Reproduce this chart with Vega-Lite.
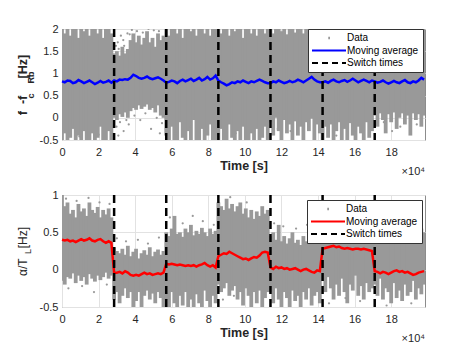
{
  "$schema": "https://vega.github.io/schema/vega-lite/v6.json",
  "padding": {"left": 15, "top": 22, "right": 0, "bottom": 0},
  "background": "white",
  "bounds": "flush",
  "spacing": 55,
  "config": {
    "font": "Liberation Sans",
    "view": {"stroke": "#8c8c8c", "strokeWidth": 1},
    "axis": {"labelFont": "Liberation Sans", "labelFontSize": 11, "labelColor": "#262626", "titleFont": "Liberation Sans", "titleFontSize": 12.5, "titleColor": "#262626", "gridColor": "#e2e2e2", "gridWidth": 1, "ticks": false, "domain": false, "labelOverlap": false, "labelFlush": false, "minExtent": 0},
    "legend": {"labelFont": "Liberation Sans", "labelFontSize": 10, "labelColor": "#000000", "strokeColor": "#333333", "fillColor": "white", "padding": 4, "rowPadding": 2.5, "symbolSize": 100, "symbolStrokeWidth": 2, "labelOffset": 25, "symbolType": "M-1,0H5.8"}
  },
  "resolve": {"scale": {"color": "independent"}, "legend": {"color": "independent"}},
  "datasets": {
    "switch": [{"t": 28500}, {"t": 57000}, {"t": 85500}, {"t": 114000}, {"t": 142500}, {"t": 171000}],
    "topOut": [
      {"t": 30500, "v": 1.7}, {"t": 32200, "v": 1.85}, {"t": 34000, "v": 1.62}, {"t": 35800, "v": 1.9}, {"t": 38200, "v": 1.98}, {"t": 41000, "v": 1.95}, {"t": 44200, "v": 1.92}, {"t": 47300, "v": 2.0}, {"t": 50200, "v": 1.97}, {"t": 53000, "v": 1.95}, {"t": 29500, "v": 1.62}, {"t": 33500, "v": 1.75}, {"t": 37000, "v": 1.88}, {"t": 31000, "v": 1.55},
      {"t": 29800, "v": -0.2}, {"t": 31700, "v": -0.1}, {"t": 33700, "v": -0.3}, {"t": 36500, "v": -0.15}, {"t": 39600, "v": 0.05}, {"t": 42800, "v": -0.05}, {"t": 45600, "v": 0.1}, {"t": 48700, "v": -0.25}, {"t": 51800, "v": 0.0}, {"t": 54700, "v": -0.12}, {"t": 30800, "v": -0.4}, {"t": 35200, "v": -0.05}, {"t": 53500, "v": -0.35},
      {"t": 9500, "v": -0.42}, {"t": 20000, "v": -0.38}, {"t": 62000, "v": -0.35}, {"t": 70000, "v": -0.2}, {"t": 95000, "v": -0.35}, {"t": 118000, "v": -0.25}, {"t": 125000, "v": -0.3}, {"t": 150000, "v": -0.4}, {"t": 160000, "v": -0.3}, {"t": 176000, "v": -0.1}, {"t": 185000, "v": -0.2}, {"t": 194000, "v": -0.15}, {"t": 180500, "v": -0.3}
    ],
    "bottomOut": [
      {"t": 2200, "v": 0.95}, {"t": 8000, "v": 0.92}, {"t": 14500, "v": 0.96}, {"t": 20500, "v": 0.9}, {"t": 26000, "v": 0.88},
      {"t": 30000, "v": 0.42}, {"t": 35000, "v": 0.38}, {"t": 41500, "v": 0.4}, {"t": 47000, "v": 0.35}, {"t": 53000, "v": 0.43},
      {"t": 59000, "v": 0.7}, {"t": 66000, "v": 0.62}, {"t": 71500, "v": 0.72}, {"t": 77000, "v": 0.65}, {"t": 83000, "v": 0.6},
      {"t": 92000, "v": 0.97}, {"t": 101000, "v": 0.9},
      {"t": 116000, "v": 0.62}, {"t": 121000, "v": 0.58}, {"t": 128000, "v": 0.55}, {"t": 134000, "v": 0.6}, {"t": 140000, "v": 0.52},
      {"t": 175000, "v": 0.66}, {"t": 182000, "v": 0.62}, {"t": 189500, "v": 0.68}, {"t": 196000, "v": 0.62},
      {"t": 3500, "v": -0.25}, {"t": 11000, "v": -0.22}, {"t": 17500, "v": -0.3}, {"t": 24500, "v": -0.2},
      {"t": 88000, "v": -0.4}, {"t": 94000, "v": -0.35}, {"t": 146000, "v": -0.45}, {"t": 155000, "v": -0.38}, {"t": 163000, "v": -0.42}, {"t": 177500, "v": -0.48}, {"t": 191000, "v": -0.45}
    ],
    "top": [
      {"t": 0, "lo": -0.6, "hi": 2.1, "ma": 0.82}, {"t": 1500, "lo": -0.35, "hi": 1.9, "ma": 0.8}, {"t": 3000, "lo": -0.6, "hi": 2.1, "ma": 0.84}, {"t": 4500, "lo": -0.45, "hi": 1.85, "ma": 0.83}, {"t": 6000, "lo": -0.25, "hi": 2.1, "ma": 0.78}, {"t": 7500, "lo": -0.6, "hi": 2.1, "ma": 0.8}, {"t": 9000, "lo": -0.4, "hi": 1.8, "ma": 0.85}, {"t": 10500, "lo": -0.6, "hi": 2.1, "ma": 0.82}, {"t": 12000, "lo": -0.3, "hi": 1.95, "ma": 0.78}, {"t": 13500, "lo": -0.55, "hi": 2.1, "ma": 0.81}, {"t": 15000, "lo": -0.6, "hi": 1.85, "ma": 0.84}, {"t": 16500, "lo": -0.35, "hi": 2.1, "ma": 0.8}, {"t": 18000, "lo": -0.6, "hi": 2.1, "ma": 0.76}, {"t": 19500, "lo": -0.45, "hi": 1.9, "ma": 0.79}, {"t": 21000, "lo": -0.2, "hi": 2.1, "ma": 0.83}, {"t": 22500, "lo": -0.6, "hi": 1.8, "ma": 0.79}, {"t": 24000, "lo": -0.5, "hi": 2.1, "ma": 0.81}, {"t": 25500, "lo": -0.3, "hi": 2.1, "ma": 0.84}, {"t": 27000, "lo": -0.6, "hi": 1.9, "ma": 0.79},
      {"t": 28500, "lo": 0.0, "hi": 1.45, "ma": 0.84}, {"t": 30000, "lo": -0.05, "hi": 1.5, "ma": 0.82}, {"t": 31500, "lo": 0.08, "hi": 1.4, "ma": 0.86}, {"t": 33000, "lo": 0.02, "hi": 1.6, "ma": 0.85}, {"t": 34500, "lo": 0.12, "hi": 1.45, "ma": 0.87}, {"t": 36000, "lo": 0.0, "hi": 1.55, "ma": 0.86}, {"t": 37500, "lo": 0.15, "hi": 1.75, "ma": 0.9}, {"t": 39000, "lo": 0.22, "hi": 1.9, "ma": 0.97}, {"t": 40500, "lo": 0.18, "hi": 1.7, "ma": 0.94}, {"t": 42000, "lo": 0.28, "hi": 1.85, "ma": 0.9}, {"t": 43500, "lo": 0.2, "hi": 1.65, "ma": 0.88}, {"t": 45000, "lo": 0.25, "hi": 1.8, "ma": 0.9}, {"t": 46500, "lo": 0.3, "hi": 1.95, "ma": 0.93}, {"t": 48000, "lo": 0.18, "hi": 1.7, "ma": 0.89}, {"t": 49500, "lo": 0.22, "hi": 1.8, "ma": 0.87}, {"t": 51000, "lo": 0.12, "hi": 1.6, "ma": 0.89}, {"t": 52500, "lo": 0.28, "hi": 1.9, "ma": 0.91}, {"t": 54000, "lo": 0.05, "hi": 1.75, "ma": 0.88}, {"t": 55500, "lo": 0.0, "hi": 1.85, "ma": 0.84},
      {"t": 57000, "lo": -0.4, "hi": 2.1, "ma": 0.79}, {"t": 58500, "lo": -0.6, "hi": 1.85, "ma": 0.81}, {"t": 60000, "lo": -0.2, "hi": 2.1, "ma": 0.84}, {"t": 61500, "lo": -0.5, "hi": 2.1, "ma": 0.82}, {"t": 63000, "lo": -0.6, "hi": 1.9, "ma": 0.78}, {"t": 64500, "lo": -0.1, "hi": 2.1, "ma": 0.83}, {"t": 66000, "lo": -0.45, "hi": 1.8, "ma": 0.86}, {"t": 67500, "lo": -0.6, "hi": 2.1, "ma": 0.82}, {"t": 69000, "lo": -0.3, "hi": 2.1, "ma": 0.85}, {"t": 70500, "lo": -0.6, "hi": 1.95, "ma": 0.88}, {"t": 72000, "lo": -0.05, "hi": 2.1, "ma": 0.83}, {"t": 73500, "lo": -0.5, "hi": 1.85, "ma": 0.86}, {"t": 75000, "lo": -0.6, "hi": 2.1, "ma": 0.9}, {"t": 76500, "lo": -0.25, "hi": 2.1, "ma": 0.84}, {"t": 78000, "lo": -0.6, "hi": 1.9, "ma": 0.87}, {"t": 79500, "lo": -0.4, "hi": 2.1, "ma": 0.92}, {"t": 81000, "lo": -0.15, "hi": 1.85, "ma": 0.86}, {"t": 82500, "lo": -0.6, "hi": 2.1, "ma": 0.89}, {"t": 84000, "lo": -0.5, "hi": 2.1, "ma": 0.95},
      {"t": 85500, "lo": -0.6, "hi": 2.1, "ma": 0.84}, {"t": 87000, "lo": -0.25, "hi": 1.9, "ma": 0.8}, {"t": 88500, "lo": -0.5, "hi": 2.1, "ma": 0.77}, {"t": 90000, "lo": -0.6, "hi": 2.1, "ma": 0.73}, {"t": 91500, "lo": -0.15, "hi": 1.85, "ma": 0.76}, {"t": 93000, "lo": -0.45, "hi": 2.1, "ma": 0.8}, {"t": 94500, "lo": -0.6, "hi": 1.95, "ma": 0.78}, {"t": 96000, "lo": -0.3, "hi": 2.1, "ma": 0.82}, {"t": 97500, "lo": -0.6, "hi": 2.1, "ma": 0.8}, {"t": 99000, "lo": -0.2, "hi": 1.8, "ma": 0.84}, {"t": 100500, "lo": -0.5, "hi": 2.1, "ma": 0.81}, {"t": 102000, "lo": -0.6, "hi": 2.1, "ma": 0.78}, {"t": 103500, "lo": -0.35, "hi": 1.9, "ma": 0.82}, {"t": 105000, "lo": -0.6, "hi": 2.1, "ma": 0.8}, {"t": 106500, "lo": -0.25, "hi": 1.85, "ma": 0.83}, {"t": 108000, "lo": -0.6, "hi": 2.1, "ma": 0.86}, {"t": 109500, "lo": -0.45, "hi": 2.1, "ma": 0.83}, {"t": 111000, "lo": -0.2, "hi": 1.9, "ma": 0.8}, {"t": 112500, "lo": -0.6, "hi": 2.1, "ma": 0.78},
      {"t": 114000, "lo": -0.1, "hi": 2.1, "ma": 0.78}, {"t": 115500, "lo": -0.4, "hi": 1.9, "ma": 0.82}, {"t": 117000, "lo": 0.0, "hi": 2.1, "ma": 0.8}, {"t": 118500, "lo": -0.3, "hi": 2.1, "ma": 0.84}, {"t": 120000, "lo": -0.6, "hi": 1.95, "ma": 0.81}, {"t": 121500, "lo": -0.05, "hi": 2.1, "ma": 0.78}, {"t": 123000, "lo": -0.35, "hi": 1.88, "ma": 0.8}, {"t": 124500, "lo": -0.15, "hi": 2.1, "ma": 0.83}, {"t": 126000, "lo": -0.6, "hi": 2.1, "ma": 0.8}, {"t": 127500, "lo": -0.08, "hi": 1.92, "ma": 0.82}, {"t": 129000, "lo": -0.4, "hi": 2.1, "ma": 0.86}, {"t": 130500, "lo": -0.2, "hi": 2.1, "ma": 0.83}, {"t": 132000, "lo": -0.6, "hi": 1.9, "ma": 0.8}, {"t": 133500, "lo": -0.1, "hi": 2.1, "ma": 0.84}, {"t": 135000, "lo": -0.3, "hi": 2.1, "ma": 0.88}, {"t": 136500, "lo": -0.02, "hi": 1.95, "ma": 0.92}, {"t": 138000, "lo": -0.5, "hi": 2.1, "ma": 0.86}, {"t": 139500, "lo": -0.15, "hi": 1.9, "ma": 0.82}, {"t": 141000, "lo": -0.35, "hi": 2.1, "ma": 0.8},
      {"t": 142500, "lo": -0.6, "hi": 2.1, "ma": 0.8}, {"t": 144000, "lo": -0.2, "hi": 2.1, "ma": 0.82}, {"t": 145500, "lo": -0.45, "hi": 1.9, "ma": 0.79}, {"t": 147000, "lo": -0.15, "hi": 2.1, "ma": 0.83}, {"t": 148500, "lo": -0.6, "hi": 2.1, "ma": 0.86}, {"t": 150000, "lo": -0.3, "hi": 1.95, "ma": 0.82}, {"t": 151500, "lo": -0.1, "hi": 2.1, "ma": 0.8}, {"t": 153000, "lo": -0.5, "hi": 2.1, "ma": 0.83}, {"t": 154500, "lo": -0.25, "hi": 1.9, "ma": 0.85}, {"t": 156000, "lo": -0.6, "hi": 2.1, "ma": 0.81}, {"t": 157500, "lo": -0.12, "hi": 2.1, "ma": 0.84}, {"t": 159000, "lo": -0.4, "hi": 2.1, "ma": 0.88}, {"t": 160500, "lo": -0.6, "hi": 1.9, "ma": 0.84}, {"t": 162000, "lo": -0.2, "hi": 2.1, "ma": 0.8}, {"t": 163500, "lo": -0.35, "hi": 2.1, "ma": 0.83}, {"t": 165000, "lo": -0.6, "hi": 1.95, "ma": 0.86}, {"t": 166500, "lo": -0.1, "hi": 2.1, "ma": 0.83}, {"t": 168000, "lo": -0.45, "hi": 2.1, "ma": 0.8}, {"t": 169500, "lo": -0.3, "hi": 2.1, "ma": 0.84},
      {"t": 171000, "lo": 0.05, "hi": 2.1, "ma": 0.82}, {"t": 172500, "lo": -0.2, "hi": 2.1, "ma": 0.79}, {"t": 174000, "lo": 0.1, "hi": 1.9, "ma": 0.81}, {"t": 175500, "lo": -0.05, "hi": 2.1, "ma": 0.84}, {"t": 177000, "lo": -0.35, "hi": 2.1, "ma": 0.8}, {"t": 178500, "lo": 0.08, "hi": 2.1, "ma": 0.77}, {"t": 180000, "lo": -0.1, "hi": 1.95, "ma": 0.8}, {"t": 181500, "lo": 0.12, "hi": 2.1, "ma": 0.83}, {"t": 183000, "lo": -0.25, "hi": 2.1, "ma": 0.8}, {"t": 184500, "lo": 0.0, "hi": 1.9, "ma": 0.78}, {"t": 186000, "lo": 0.1, "hi": 2.1, "ma": 0.82}, {"t": 187500, "lo": -0.15, "hi": 2.1, "ma": 0.85}, {"t": 189000, "lo": 0.05, "hi": 2.1, "ma": 0.8}, {"t": 190500, "lo": -0.4, "hi": 1.95, "ma": 0.78}, {"t": 192000, "lo": 0.1, "hi": 2.1, "ma": 0.82}, {"t": 193500, "lo": -0.05, "hi": 2.1, "ma": 0.8}, {"t": 195000, "lo": 0.08, "hi": 1.9, "ma": 0.84}, {"t": 196500, "lo": -0.2, "hi": 2.1, "ma": 0.9}, {"t": 198000, "lo": 0.05, "hi": 2.1, "ma": 0.86}
    ],
    "bottom": [
      {"t": 0, "lo": -0.15, "hi": 1.0, "ma": 0.4}, {"t": 1500, "lo": -0.2, "hi": 0.85, "ma": 0.39}, {"t": 3000, "lo": -0.1, "hi": 0.9, "ma": 0.4}, {"t": 4500, "lo": -0.12, "hi": 0.75, "ma": 0.38}, {"t": 6000, "lo": -0.05, "hi": 0.8, "ma": 0.39}, {"t": 7500, "lo": -0.18, "hi": 0.7, "ma": 0.37}, {"t": 9000, "lo": -0.08, "hi": 0.88, "ma": 0.39}, {"t": 10500, "lo": -0.15, "hi": 0.78, "ma": 0.41}, {"t": 12000, "lo": -0.1, "hi": 0.82, "ma": 0.39}, {"t": 13500, "lo": -0.2, "hi": 0.72, "ma": 0.4}, {"t": 15000, "lo": -0.06, "hi": 0.9, "ma": 0.42}, {"t": 16500, "lo": -0.12, "hi": 0.8, "ma": 0.39}, {"t": 18000, "lo": -0.16, "hi": 0.76, "ma": 0.38}, {"t": 19500, "lo": -0.08, "hi": 0.84, "ma": 0.4}, {"t": 21000, "lo": -0.14, "hi": 0.7, "ma": 0.41}, {"t": 22500, "lo": -0.1, "hi": 0.8, "ma": 0.38}, {"t": 24000, "lo": -0.04, "hi": 0.74, "ma": 0.36}, {"t": 25500, "lo": -0.12, "hi": 0.82, "ma": 0.38}, {"t": 27000, "lo": -0.08, "hi": 0.7, "ma": 0.36},
      {"t": 28500, "lo": -0.4, "hi": 0.3, "ma": -0.04}, {"t": 30000, "lo": -0.3, "hi": 0.25, "ma": -0.04}, {"t": 31500, "lo": -0.45, "hi": 0.22, "ma": -0.03}, {"t": 33000, "lo": -0.35, "hi": 0.28, "ma": -0.05}, {"t": 34500, "lo": -0.25, "hi": 0.2, "ma": -0.02}, {"t": 36000, "lo": -0.38, "hi": 0.32, "ma": -0.04}, {"t": 37500, "lo": -0.3, "hi": 0.18, "ma": -0.07}, {"t": 39000, "lo": -0.5, "hi": 0.24, "ma": -0.08}, {"t": 40500, "lo": -0.42, "hi": 0.28, "ma": -0.07}, {"t": 42000, "lo": -0.3, "hi": 0.15, "ma": -0.08}, {"t": 43500, "lo": -0.55, "hi": 0.22, "ma": -0.06}, {"t": 45000, "lo": -0.35, "hi": 0.26, "ma": -0.04}, {"t": 46500, "lo": -0.28, "hi": 0.2, "ma": -0.06}, {"t": 48000, "lo": -0.4, "hi": 0.3, "ma": -0.05}, {"t": 49500, "lo": -0.32, "hi": 0.18, "ma": -0.07}, {"t": 51000, "lo": -0.45, "hi": 0.24, "ma": -0.06}, {"t": 52500, "lo": -0.3, "hi": 0.27, "ma": -0.05}, {"t": 54000, "lo": -0.38, "hi": 0.2, "ma": -0.06}, {"t": 55500, "lo": -0.5, "hi": 0.25, "ma": -0.04},
      {"t": 57000, "lo": -0.4, "hi": 0.5, "ma": 0.08}, {"t": 58500, "lo": -0.5, "hi": 0.45, "ma": 0.07}, {"t": 60000, "lo": -0.3, "hi": 0.55, "ma": 0.08}, {"t": 61500, "lo": -0.45, "hi": 0.72, "ma": 0.07}, {"t": 63000, "lo": -0.55, "hi": 0.48, "ma": 0.06}, {"t": 64500, "lo": -0.35, "hi": 0.5, "ma": 0.07}, {"t": 66000, "lo": -0.48, "hi": 0.44, "ma": 0.06}, {"t": 67500, "lo": -0.3, "hi": 0.55, "ma": 0.05}, {"t": 69000, "lo": -0.52, "hi": 0.5, "ma": 0.06}, {"t": 70500, "lo": -0.4, "hi": 0.6, "ma": 0.05}, {"t": 72000, "lo": -0.55, "hi": 0.46, "ma": 0.06}, {"t": 73500, "lo": -0.33, "hi": 0.52, "ma": 0.04}, {"t": 75000, "lo": -0.45, "hi": 0.48, "ma": 0.06}, {"t": 76500, "lo": -0.5, "hi": 0.56, "ma": 0.07}, {"t": 78000, "lo": -0.28, "hi": 0.5, "ma": 0.09}, {"t": 79500, "lo": -0.42, "hi": 0.45, "ma": 0.06}, {"t": 81000, "lo": -0.55, "hi": 0.55, "ma": 0.04}, {"t": 82500, "lo": -0.35, "hi": 0.48, "ma": 0.06}, {"t": 84000, "lo": -0.45, "hi": 0.52, "ma": 0.03},
      {"t": 85500, "lo": -0.2, "hi": 0.9, "ma": 0.18}, {"t": 87000, "lo": -0.3, "hi": 0.85, "ma": 0.2}, {"t": 88500, "lo": -0.25, "hi": 0.8, "ma": 0.22}, {"t": 90000, "lo": -0.18, "hi": 0.95, "ma": 0.21}, {"t": 91500, "lo": -0.35, "hi": 0.82, "ma": 0.24}, {"t": 93000, "lo": -0.28, "hi": 0.88, "ma": 0.22}, {"t": 94500, "lo": -0.22, "hi": 0.78, "ma": 0.2}, {"t": 96000, "lo": -0.4, "hi": 0.85, "ma": 0.18}, {"t": 97500, "lo": -0.3, "hi": 0.9, "ma": 0.16}, {"t": 99000, "lo": -0.48, "hi": 0.75, "ma": 0.14}, {"t": 100500, "lo": -0.25, "hi": 0.82, "ma": 0.15}, {"t": 102000, "lo": -0.35, "hi": 0.7, "ma": 0.13}, {"t": 103500, "lo": -0.55, "hi": 0.8, "ma": 0.15}, {"t": 105000, "lo": -0.3, "hi": 0.68, "ma": 0.17}, {"t": 106500, "lo": -0.45, "hi": 0.78, "ma": 0.16}, {"t": 108000, "lo": -0.28, "hi": 0.72, "ma": 0.19}, {"t": 109500, "lo": -0.5, "hi": 0.85, "ma": 0.23}, {"t": 111000, "lo": -0.38, "hi": 0.75, "ma": 0.24}, {"t": 112500, "lo": -0.3, "hi": 0.8, "ma": 0.23},
      {"t": 114000, "lo": -0.3, "hi": 0.45, "ma": 0.03}, {"t": 115500, "lo": -0.45, "hi": 0.5, "ma": 0.01}, {"t": 117000, "lo": -0.25, "hi": 0.4, "ma": 0.04}, {"t": 118500, "lo": -0.4, "hi": 0.6, "ma": 0.02}, {"t": 120000, "lo": -0.55, "hi": 0.38, "ma": 0.03}, {"t": 121500, "lo": -0.3, "hi": 0.45, "ma": 0.01}, {"t": 123000, "lo": -0.38, "hi": 0.35, "ma": 0.02}, {"t": 124500, "lo": -0.5, "hi": 0.42, "ma": 0.0}, {"t": 126000, "lo": -0.28, "hi": 0.5, "ma": 0.01}, {"t": 127500, "lo": -0.42, "hi": 0.36, "ma": 0.02}, {"t": 129000, "lo": -0.35, "hi": 0.4, "ma": 0.0}, {"t": 130500, "lo": -0.55, "hi": 0.33, "ma": -0.02}, {"t": 132000, "lo": -0.3, "hi": 0.45, "ma": 0.0}, {"t": 133500, "lo": -0.4, "hi": 0.38, "ma": 0.01}, {"t": 135000, "lo": -0.25, "hi": 0.42, "ma": -0.01}, {"t": 136500, "lo": -0.48, "hi": 0.35, "ma": -0.03}, {"t": 138000, "lo": -0.35, "hi": 0.4, "ma": -0.04}, {"t": 139500, "lo": -0.3, "hi": 0.45, "ma": -0.01}, {"t": 141000, "lo": -0.45, "hi": 0.38, "ma": -0.02},
      {"t": 142500, "lo": -0.15, "hi": 0.8, "ma": 0.28}, {"t": 144000, "lo": -0.3, "hi": 0.75, "ma": 0.29}, {"t": 145500, "lo": -0.1, "hi": 0.85, "ma": 0.3}, {"t": 147000, "lo": -0.25, "hi": 0.7, "ma": 0.31}, {"t": 148500, "lo": -0.4, "hi": 0.8, "ma": 0.32}, {"t": 150000, "lo": -0.2, "hi": 0.9, "ma": 0.3}, {"t": 151500, "lo": -0.35, "hi": 0.75, "ma": 0.31}, {"t": 153000, "lo": -0.12, "hi": 0.8, "ma": 0.29}, {"t": 154500, "lo": -0.3, "hi": 0.7, "ma": 0.28}, {"t": 156000, "lo": -0.45, "hi": 0.85, "ma": 0.29}, {"t": 157500, "lo": -0.2, "hi": 0.78, "ma": 0.28}, {"t": 159000, "lo": -0.28, "hi": 0.72, "ma": 0.27}, {"t": 160500, "lo": -0.08, "hi": 0.82, "ma": 0.28}, {"t": 162000, "lo": -0.35, "hi": 0.75, "ma": 0.28}, {"t": 163500, "lo": -0.22, "hi": 0.8, "ma": 0.27}, {"t": 165000, "lo": -0.4, "hi": 0.7, "ma": 0.28}, {"t": 166500, "lo": -0.18, "hi": 0.78, "ma": 0.27}, {"t": 168000, "lo": -0.3, "hi": 0.82, "ma": 0.26}, {"t": 169500, "lo": -0.25, "hi": 0.72, "ma": 0.25},
      {"t": 171000, "lo": -0.2, "hi": 0.55, "ma": -0.02}, {"t": 172500, "lo": -0.35, "hi": 0.5, "ma": -0.03}, {"t": 174000, "lo": -0.12, "hi": 0.6, "ma": -0.05}, {"t": 175500, "lo": -0.4, "hi": 0.45, "ma": -0.03}, {"t": 177000, "lo": -0.25, "hi": 0.52, "ma": -0.04}, {"t": 178500, "lo": -0.3, "hi": 0.48, "ma": -0.06}, {"t": 180000, "lo": -0.45, "hi": 0.55, "ma": -0.04}, {"t": 181500, "lo": -0.18, "hi": 0.5, "ma": -0.02}, {"t": 183000, "lo": -0.38, "hi": 0.45, "ma": -0.01}, {"t": 184500, "lo": -0.28, "hi": 0.58, "ma": -0.03}, {"t": 186000, "lo": -0.42, "hi": 0.5, "ma": -0.02}, {"t": 187500, "lo": -0.2, "hi": 0.46, "ma": -0.04}, {"t": 189000, "lo": -0.35, "hi": 0.55, "ma": -0.03}, {"t": 190500, "lo": -0.3, "hi": 0.5, "ma": -0.05}, {"t": 192000, "lo": -0.15, "hi": 0.45, "ma": -0.07}, {"t": 193500, "lo": -0.4, "hi": 0.52, "ma": -0.06}, {"t": 195000, "lo": -0.25, "hi": 0.48, "ma": -0.04}, {"t": 196500, "lo": -0.33, "hi": 0.55, "ma": -0.03}, {"t": 198000, "lo": -0.2, "hi": 0.5, "ma": -0.02}
    ]
  },
  "vconcat": [
    {
      "width": 363,
      "height": 111,
      "title": {"text": "×10⁴", "orient": "bottom", "anchor": "end", "frame": "group", "fontSize": 11, "fontWeight": "normal", "color": "#262626", "offset": -6},
      "resolve": {"scale": {"y": "independent"}, "axis": {"y": "independent"}},
      "layer": [
        {
          "layer": [
            {
              "data": {"name": "top"},
              "mark": {"type": "rule", "strokeWidth": 3.8, "clip": true},
              "encoding": {
                "x": {"field": "t", "type": "quantitative", "scale": {"domain": [0, 198500], "nice": false, "zero": false}, "axis": {"title": "Time [s]", "titleFontWeight": "bold", "values": [0, 20000, 40000, 60000, 80000, 100000, 120000, 140000, 160000, 180000], "tickCount": 20, "labelExpr": "datum.value / 10000", "labelPadding": 6, "titlePadding": 2, "grid": true, "labelOverlap": false, "labelFlush": false}},
                "y": {"field": "lo", "type": "quantitative", "scale": {"domain": [-0.5, 2], "nice": false, "zero": false}, "axis": {"title": "f\u00a0\u00a0-f\u00a0\u00a0\u00a0\u00a0 [Hz]", "titleFontWeight": "bold", "values": [-0.5, 0, 0.5, 1, 1.5, 2], "tickCount": 20, "labelExpr": "datum.value + ''", "labelPadding": 4, "titlePadding": 10, "grid": true, "labelOverlap": false, "labelFlush": false}},
                "y2": {"field": "hi"},
                "color": {"datum": "Data", "scale": {"domain": ["Data", "Moving average", "Switch times"], "range": ["#999999", "#0000ff", "#000000"]}, "legend": {"title": null, "orient": "none", "legendX": 246, "legendY": 0, "encode": {"symbols": {"update": {"shape": {"signal": "datum.value === 'Data' ? 'M2.25,0H2.6' : 'M-1,0H5.8'"}, "strokeWidth": {"signal": "datum.value === 'Data' ? 2.5 : 2"}, "strokeDash": {"signal": "datum.value === 'Switch times' ? [6, 4] : [1, 0]"}}}}}}
              }
            },
            {
              "data": {"name": "topOut"},
              "mark": {"type": "circle", "size": 5, "opacity": 1, "clip": true},
              "encoding": {
                "x": {"field": "t", "type": "quantitative"},
                "y": {"field": "v", "type": "quantitative"},
                "color": {"datum": "Data"}
              }
            },
            {
              "data": {"name": "top"},
              "mark": {"type": "line", "strokeWidth": 2.5},
              "encoding": {
                "x": {"field": "t", "type": "quantitative"},
                "y": {"field": "ma", "type": "quantitative"},
                "color": {"datum": "Moving average"}
              }
            },
            {
              "data": {"name": "switch"},
              "mark": {"type": "rule", "strokeWidth": 2.5, "strokeDash": [8, 5]},
              "encoding": {
                "x": {"field": "t", "type": "quantitative"},
                "color": {"datum": "Switch times"}
              }
            }
          ]
        },
        {
          "data": {"name": "switch"},
          "mark": {"type": "point", "opacity": 0},
          "encoding": {
            "y": {"datum": 0, "type": "quantitative", "scale": {"domain": [-0.5, 2], "nice": false, "zero": false}, "axis": {"orient": "left", "title": "c\u00a0\u00a0\u00a0\u00a0Rb\u00a0\u00a0\u00a0\u00a0\u00a0\u00a0\u00a0\u00a0\u00a0\u00a0", "titleFontSize": 9, "titleFontWeight": "bold", "labels": false, "ticks": false, "domain": false, "grid": false, "titlePadding": 27}}
          }
        }
      ]
    },
    {
      "width": 363,
      "height": 112,
      "title": {"text": "×10⁴", "orient": "bottom", "anchor": "end", "frame": "group", "fontSize": 11, "fontWeight": "normal", "color": "#262626", "offset": -6},
      "resolve": {"scale": {"y": "independent"}, "axis": {"y": "independent"}},
      "layer": [
        {
          "layer": [
            {
              "data": {"name": "bottom"},
              "mark": {"type": "rule", "strokeWidth": 3.8, "clip": true},
              "encoding": {
                "x": {"field": "t", "type": "quantitative", "scale": {"domain": [0, 198500], "nice": false, "zero": false}, "axis": {"title": "Time [s]", "titleFontWeight": "bold", "values": [0, 20000, 40000, 60000, 80000, 100000, 120000, 140000, 160000, 180000], "tickCount": 20, "labelExpr": "datum.value / 10000", "labelPadding": 6, "titlePadding": 2, "grid": true, "labelOverlap": false, "labelFlush": false}},
                "y": {"field": "lo", "type": "quantitative", "scale": {"domain": [-0.5, 1], "nice": false, "zero": false}, "axis": {"title": "α/T\u00a0\u00a0 [Hz]", "titleFontWeight": "normal", "titleFontSize": 12, "values": [-0.5, 0, 0.5, 1], "tickCount": 20, "labelExpr": "datum.value + ''", "labelPadding": 4, "titlePadding": 10, "grid": true, "labelOverlap": false, "labelFlush": false}},
                "y2": {"field": "hi"},
                "color": {"datum": "Data", "scale": {"domain": ["Data", "Moving average", "Switch times"], "range": ["#999999", "#ff0000", "#000000"]}, "legend": {"title": null, "orient": "none", "legendX": 245, "legendY": 5, "encode": {"symbols": {"update": {"shape": {"signal": "datum.value === 'Data' ? 'M2.25,0H2.6' : 'M-1,0H5.8'"}, "strokeWidth": {"signal": "datum.value === 'Data' ? 2.5 : 2"}, "strokeDash": {"signal": "datum.value === 'Switch times' ? [6, 4] : [1, 0]"}}}}}}
              }
            },
            {
              "data": {"name": "bottomOut"},
              "mark": {"type": "circle", "size": 5, "opacity": 1, "clip": true},
              "encoding": {
                "x": {"field": "t", "type": "quantitative"},
                "y": {"field": "v", "type": "quantitative"},
                "color": {"datum": "Data"}
              }
            },
            {
              "data": {"name": "bottom"},
              "mark": {"type": "line", "strokeWidth": 2.5},
              "encoding": {
                "x": {"field": "t", "type": "quantitative"},
                "y": {"field": "ma", "type": "quantitative"},
                "color": {"datum": "Moving average"}
              }
            },
            {
              "data": {"name": "switch"},
              "mark": {"type": "rule", "strokeWidth": 2.5, "strokeDash": [8, 5]},
              "encoding": {
                "x": {"field": "t", "type": "quantitative"},
                "color": {"datum": "Switch times"}
              }
            }
          ]
        },
        {
          "data": {"name": "switch"},
          "mark": {"type": "point", "opacity": 0},
          "encoding": {
            "y": {"datum": 0, "type": "quantitative", "scale": {"domain": [-0.5, 1], "nice": false, "zero": false}, "axis": {"orient": "left", "title": "L\u00a0\u00a0\u00a0", "titleFontSize": 9, "titleFontWeight": "normal", "labels": false, "ticks": false, "domain": false, "grid": false, "titlePadding": 30}}
          }
        }
      ]
    }
  ]
}
